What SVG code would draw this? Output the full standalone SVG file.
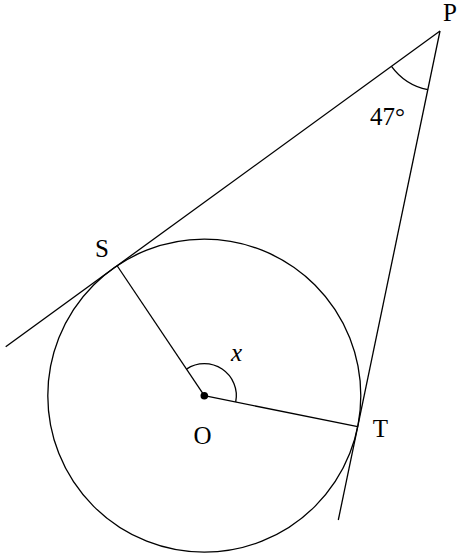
<svg xmlns="http://www.w3.org/2000/svg" width="462" height="553" viewBox="0 0 462 553">
<style>
.ln{fill:none;stroke:#000;stroke-width:1.3}
.lb{font-family:"Liberation Serif","DejaVu Serif",serif;font-size:25px;fill:#000;text-anchor:middle}
</style>
<rect width="462" height="553" fill="#fff"/>
<g id="connectors">
<line class="ln" x1="5.7" y1="346.7" x2="440" y2="31"/>
<line class="ln" x1="440" y1="31" x2="338.3" y2="520"/>
<line class="ln" x1="204.3" y1="395.7" x2="117.3" y2="266"/>
<line class="ln" x1="204.3" y1="395.7" x2="357.7" y2="426.7"/>
<path class="ln" d="M391.5,66.3 A60,60 0 0 0 427.8,89.7"/>
<path class="ln" d="M186.5,369.1 A32,32 0 0 1 235.7,402"/>
</g>
<g id="circle">
<circle class="ln" cx="204.3" cy="395.7" r="156.5"/>
</g>
<g id="O">
<circle cx="204.3" cy="395.7" r="3.8" fill="#000"/>
<text class="lb" x="202.5" y="444">O</text>
</g>
<g id="S"><text class="lb" x="102" y="257">S</text></g>
<g id="T"><text class="lb" x="380.5" y="437">T</text></g>
<g id="P"><text class="lb" x="450" y="21">P</text></g>
<g id="angleP"><text class="lb" x="387.5" y="125">47°</text></g>
<g id="angleO"><text class="lb" x="236.5" y="361" font-style="italic" font-size="21">x</text></g>
</svg>
